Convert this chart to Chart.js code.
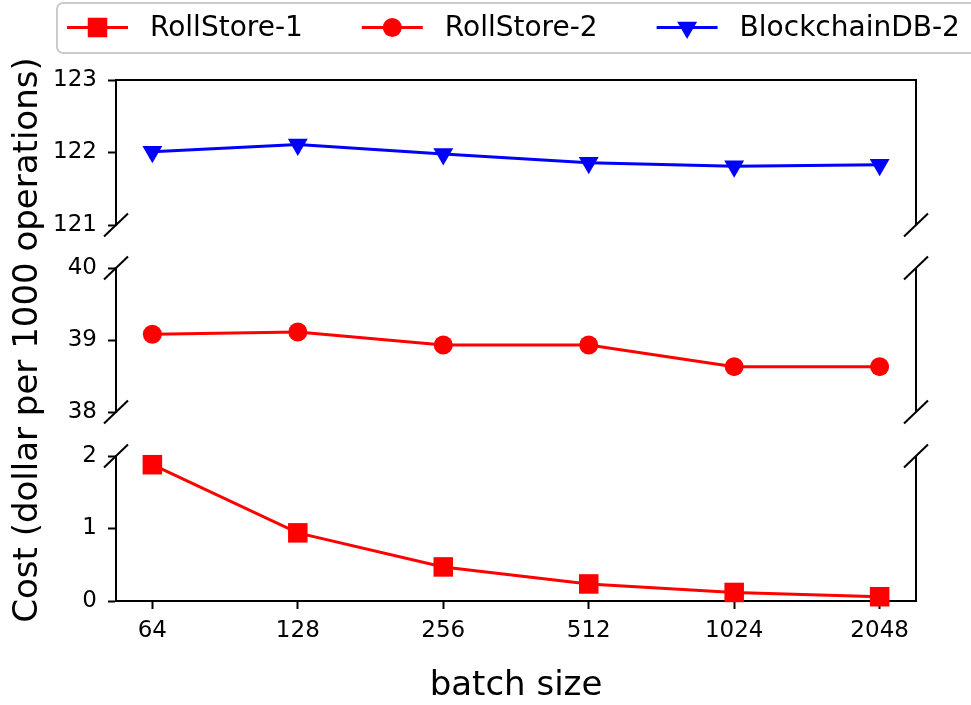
<!DOCTYPE html>
<html>
<head>
<meta charset="utf-8">
<script src="https://cdn.jsdelivr.net/npm/chart.js@4/dist/chart.umd.min.js"></script>
<style>
  html, body { margin: 0; padding: 0; background: #fff; }
  canvas { display: block; }
</style>
</head>
<body>
<canvas id="c" width="971" height="705"></canvas>
<script>
// Batch sizes on the x axis
const batchSizes = ['64', '128', '256', '512', '1024', '2048'];

// Cost (dollar per 1000 operations) for each system
const rollStore1 = [1.88, 0.94, 0.47, 0.235, 0.118, 0.059];
const rollStore2 = [39.08, 39.11, 38.93, 38.93, 38.63, 38.63];
const blockchainDB2 = [122.01, 122.11, 121.98, 121.86, 121.81, 121.83];

// Value ranges of the three broken-axis panels (top, middle, bottom)
const topRange = [121, 123];
const midRange = [38, 40];
const lowRange = [0, 2];

const FONT = 'DejaVu Sans';
const toPoints = vals => vals.map((v, i) => ({ x: i, y: v }));
const AXIS_W = 116;

function panelAxis(range, weight, stackWeight, extra) {
  return Object.assign({
    type: 'linear',
    axis: 'y',
    position: 'left',
    stack: 'cost',
    stackWeight: stackWeight,
    weight: weight,
    min: range[0],
    max: range[1],
    ticks: { stepSize: 1, color: '#000', font: { family: FONT, size: 23 }, padding: 11 },
    grid: { drawOnChartArea: false, tickLength: 8, tickWidth: 2, tickColor: '#000' },
    border: { display: true, color: '#000', width: 2 },
    afterFit: s => { s.width = AXIS_W; }
  }, extra || {});
}

function gapAxis(weight, stackWeight) {
  return {
    type: 'linear',
    axis: 'y',
    position: 'left',
    stack: 'cost',
    stackWeight: stackWeight,
    weight: weight,
    ticks: { display: false },
    grid: { display: false },
    border: { display: false },
    afterFit: s => { s.width = AXIS_W; }
  };
}

// Frame: right/top spines and the diagonal break marks
const framePlugin = {
  id: 'frame',
  afterDatasetsDraw(chart) {
    const { ctx, chartArea } = chart;
    const { left, right } = chartArea;
    const s = chart.scales;
    const line = (x1, y1, x2, y2) => { ctx.beginPath(); ctx.moveTo(x1, y1); ctx.lineTo(x2, y2); ctx.stroke(); };
    ctx.save();
    ctx.strokeStyle = '#000';
    ctx.lineWidth = 2;
    [s.yTop, s.yMid, s.yLow].forEach(p => line(right, p.top, right, p.bottom));
    line(left - 1, s.yTop.top, right + 1, s.yTop.top);
    [s.yTop.bottom, s.yMid.top, s.yMid.bottom, s.yLow.top].forEach(y => {
      [left, right].forEach(x => line(x - 12, y + 11.5, x + 12, y - 11.5));
    });
    ctx.restore();
  }
};

// Legend row along the top edge: line handle with marker, then label
const legendPlugin = {
  id: 'topLegend',
  afterDraw(chart) {
    const ctx = chart.ctx;
    ctx.save();
    // rounded frame
    const bx = 57, by = 3, bw = 960, bh = 50, r = 6;
    ctx.beginPath();
    ctx.moveTo(bx + r, by);
    ctx.lineTo(bx + bw - r, by);
    ctx.arcTo(bx + bw, by, bx + bw, by + r, r);
    ctx.lineTo(bx + bw, by + bh - r);
    ctx.arcTo(bx + bw, by + bh, bx + bw - r, by + bh, r);
    ctx.lineTo(bx + r, by + bh);
    ctx.arcTo(bx, by + bh, bx, by + bh - r, r);
    ctx.lineTo(bx, by + r);
    ctx.arcTo(bx, by, bx + r, by, r);
    ctx.closePath();
    ctx.fillStyle = 'rgba(255,255,255,0.8)';
    ctx.fill();
    ctx.strokeStyle = '#cccccc';
    ctx.lineWidth = 2;
    ctx.stroke();

    const cy = 27.5;
    const handle = 61, gap = 22, spacing = 59;
    let x = 67;
    ctx.font = '28px "' + FONT + '"';
    ctx.textBaseline = 'middle';
    chart.data.datasets.forEach(ds => {
      ctx.strokeStyle = ds.borderColor;
      ctx.lineWidth = ds.borderWidth;
      ctx.beginPath();
      ctx.moveTo(x, cy);
      ctx.lineTo(x + handle, cy);
      ctx.stroke();
      ctx.fillStyle = ds.backgroundColor;
      if (Chart.helpers && Chart.helpers.drawPoint) {
        Chart.helpers.drawPoint(ctx, {
          pointStyle: ds.pointStyle,
          rotation: ds.pointRotation || 0,
          radius: ds.pointRadius,
          borderWidth: 0
        }, x + handle / 2, cy);
      }
      ctx.fillStyle = '#000';
      ctx.textAlign = 'left';
      const tx = x + handle + gap;
      ctx.fillText(ds.label, tx, cy + 1);
      x = tx + ctx.measureText(ds.label).width + spacing;
    });
    ctx.restore();
  }
};

new Chart(document.getElementById('c'), {
  type: 'line',
  data: {
    datasets: [
      {
        label: 'RollStore-1',
        data: toPoints(rollStore1),
        yAxisID: 'yLow',
        borderColor: '#ff0000',
        backgroundColor: '#ff0000',
        borderWidth: 3,
        pointStyle: 'rect',
        pointRadius: 13.8,
        pointBorderWidth: 0,
        clip: false
      },
      {
        label: 'RollStore-2',
        data: toPoints(rollStore2),
        yAxisID: 'yMid',
        borderColor: '#ff0000',
        backgroundColor: '#ff0000',
        borderWidth: 3,
        pointStyle: 'circle',
        pointRadius: 9.5,
        pointBorderWidth: 0,
        clip: false
      },
      {
        label: 'BlockchainDB-2',
        data: toPoints(blockchainDB2),
        yAxisID: 'yTop',
        borderColor: '#0000ff',
        backgroundColor: '#0000ff',
        borderWidth: 3,
        pointStyle: 'triangle',
        pointRotation: 180,
        pointRadius: 11.5,
        pointBorderWidth: 0,
        clip: false
      }
    ]
  },
  options: {
    responsive: false,
    animation: false,
    layout: { padding: { top: 80, right: 55, left: 0, bottom: -2 } },
    plugins: { legend: { display: false }, tooltip: { enabled: false } },
    scales: {
      x: {
        type: 'linear',
        position: 'bottom',
        min: -0.25,
        max: 5.25,
        afterBuildTicks: s => { s.ticks = batchSizes.map((_, i) => ({ value: i })); },
        ticks: {
          callback: v => batchSizes[v],
          color: '#000',
          font: { family: FONT, size: 23 },
          padding: 8,
          maxRotation: 0,
          autoSkip: false
        },
        grid: { drawOnChartArea: false, tickLength: 8, tickWidth: 2, tickColor: '#000' },
        border: { display: true, color: '#000', width: 2 },
        title: { display: true, text: 'batch size', color: '#000', font: { family: FONT, size: 34 }, padding: 0 },
        afterFit: s => { s.height = 106; }
      },
      yTop: panelAxis(topRange, 5, 145),
      gapA: gapAxis(4, 43),
      yMid: panelAxis(midRange, 3, 144, {
        title: {
          display: true,
          text: 'Cost (dollar per 1000 operations)',
          color: '#000',
          font: { family: FONT, size: 34 },
          padding: { top: 8, bottom: 0 }
        }
      }),
      gapB: gapAxis(2, 44),
      yLow: panelAxis(lowRange, 1, 145)
    }
  },
  plugins: [framePlugin, legendPlugin]
});
</script>
</body>
</html>
